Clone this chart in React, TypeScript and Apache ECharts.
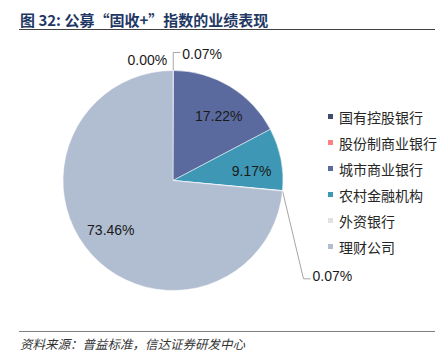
import React, { useEffect, useRef } from "react";
import * as echarts from "echarts";

const titleText = "图 32: 公募“固收+”指数的业绩表现";
const sourceText = "资料来源：普益标准，信达证券研发中心";
const categories = ["国有控股银行", "股份制商业银行", "城市商业银行", "农村金融机构", "外资银行", "理财公司"];
const values = [0.07, 0.0, 17.22, 9.17, 0.07, 73.46];
const colors = ["#414b6d", "#ff8080", "#5a6a9e", "#3e98b5", "#e2e2e2", "#b1bdd1"];
const labelPlacement = ["outside", "outside", "inside", "inside", "outside", "inside"];

const CX = 173;
const CY = 180.5;
const R = 110;

export default function App() {
  const ref = useRef<HTMLDivElement>(null);
  useEffect(() => {
    document.body.style.margin = "0";
    const chart = echarts.init(ref.current!, null, { renderer: "svg" });
    const total = values.reduce((a, b) => a + b, 0);
    const cum: number[] = [];
    values.reduce((acc, v, i) => {
      cum[i] = acc + v / 2;
      return acc + v;
    }, 0);
    const data = categories.map((name, i) => ({
      name,
      value: values[i],
      itemStyle: { color: colors[i] },
      label: { position: labelPlacement[i] },
      labelLine: { show: i === 0 || i === 4 },
    }));
    chart.setOption({
      animation: false,
      graphic: [
        {
          type: "text",
          left: 20,
          top: 11.5,
          style: {
            text: titleText,
            font: 'bold 15px "Noto Sans CJK SC", sans-serif',
            fill: "#1f3864",
          },
        },
        {
          type: "line",
          shape: { x1: 19, y1: 29.5, x2: 435, y2: 29.5 },
          style: { stroke: "#404040", lineWidth: 1 },
        },
        {
          type: "line",
          shape: { x1: 19, y1: 331.5, x2: 435, y2: 331.5 },
          style: { stroke: "#7f7f7f", lineWidth: 1 },
        },
        {
          type: "text",
          left: 20,
          top: 337,
          style: {
            text: sourceText,
            font: 'italic 12.5px "Noto Sans CJK SC", sans-serif',
            fill: "#333333",
          },
        },
      ],
      legend: {
        orient: "vertical",
        left: 326,
        top: 109.5,
        itemWidth: 7,
        itemHeight: 7,
        itemGap: 12,
        icon: "rect",
        selectedMode: false,
        padding: 0,
        textStyle: {
          fontSize: 14,
          lineHeight: 14,
          color: "#262626",
          fontFamily: '"Noto Sans CJK SC", sans-serif',
        },
        data: categories,
      },
      series: [
        {
          type: "pie",
          center: [CX, CY],
          radius: [0, R],
          startAngle: 90,
          clockwise: true,
          avoidLabelOverlap: false,
          silent: true,
          emphasis: { disabled: true },
          itemStyle: { borderColor: "#ffffff", borderWidth: 0.5 },
          label: {
            show: true,
            formatter: (p: any) => p.value.toFixed(2) + "%",
            fontSize: 14,
            color: "#1a1a1a",
            fontFamily: '"Liberation Sans", Arial, sans-serif',
          },
          labelLine: {
            lineStyle: { color: "#a6a6a6", width: 1 },
            length: 18,
            length2: 7,
            smooth: false,
          },
          labelLayout: (params: any) => {
            const i = params.dataIndex;
            if (labelPlacement[i] === "inside") {
              const theta = ((cum[i] / total) * 360 + 4) * (Math.PI / 180);
              const rr = R * 0.72;
              return {
                x: CX + rr * Math.sin(theta),
                y: CY - rr * Math.cos(theta),
                align: "center",
                verticalAlign: "middle",
              };
            }
            if (i === 1) {
              const rc = params.rect;
              return {
                x: rc.x + rc.width / 2 - 6,
                y: rc.y - 10.5,
                align: "right",
                verticalAlign: "middle",
              };
            }
            const pts = params.labelLinePoints;
            if (!pts) return {};
            const p0 = pts[0];
            if (i === 0) {
              return {
                x: p0[0] + 9,
                y: p0[1] - 16.5,
                align: "left",
                verticalAlign: "middle",
                labelLinePoints: [p0, [p0[0], p0[1] - 18], [p0[0] + 7, p0[1] - 18]],
              };
            }
            return {
              x: p0[0] + 30,
              y: p0[1] + 85,
              align: "left",
              verticalAlign: "middle",
              labelLinePoints: [p0, [p0[0] + 21, p0[1] + 88], [p0[0] + 28, p0[1] + 88]],
            };
          },
          data,
        },
      ],
    });
    return () => chart.dispose();
  }, []);
  return <div ref={ref} style={{ width: 446, height: 363 }} />;
}
